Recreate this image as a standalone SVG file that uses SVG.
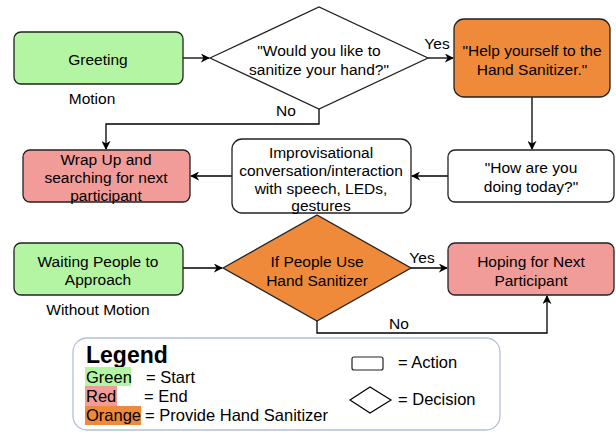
<svg xmlns="http://www.w3.org/2000/svg" width="616" height="434" viewBox="0 0 616 434">
<defs>
<style>
text{font-family:"Liberation Sans",Arial,sans-serif;font-size:15.5px;fill:#000;}
.c{text-anchor:middle;}
.lg{font-size:16.5px;}
.box{stroke:#222;stroke-width:1.3;}
.g{fill:#b3f5a3;}
.r{fill:#f19c99;}
.o{fill:#ef8a3a;}
.w{fill:#fff;}
.ln{fill:none;stroke:#000;stroke-width:1.3;}
</style>
<marker id="ah" viewBox="0 0 10 10" refX="9" refY="5" markerWidth="9" markerHeight="9" orient="auto" markerUnits="userSpaceOnUse">
<path d="M0,0 L10,5 L0,10 L3,5 Z" fill="#000"/>
</marker>
</defs>
<rect width="616" height="434" fill="#fff"/>

<g id="connectors">
<line class="ln" x1="183" y1="58" x2="209" y2="58" marker-end="url(#ah)"/>
<line class="ln" x1="428" y1="58" x2="453" y2="58" marker-end="url(#ah)"/>
<polyline class="ln" points="319,109 319,124 106,124 106,149" marker-end="url(#ah)"/>
<line class="ln" x1="532" y1="97" x2="532" y2="149" marker-end="url(#ah)"/>
<line class="ln" x1="448" y1="176" x2="412" y2="176" marker-end="url(#ah)"/>
<line class="ln" x1="232" y1="176" x2="191" y2="176" marker-end="url(#ah)"/>
<line class="ln" x1="183" y1="268" x2="222" y2="268" marker-end="url(#ah)"/>
<line class="ln" x1="411" y1="268" x2="447" y2="268" marker-end="url(#ah)"/>
<polyline class="ln" points="317,321 317,333 547,333 547,296" marker-end="url(#ah)"/>
<text x="437" y="49" class="c">Yes</text>
<text x="286" y="116" class="c">No</text>
<text x="422" y="263" class="c">Yes</text>
<text x="399" y="329" class="c">No</text>
</g>

<g id="greeting">
<rect class="box g" x="14" y="32" width="169" height="52" rx="7"/>
<text x="98" y="65" class="c">Greeting</text>
<text x="92" y="104" class="c">Motion</text>
</g>

<g id="decision1">
<polygon class="box w" points="210,58 319,7 428,58 319,109"/>
<text x="319" y="56" class="c">"Would you like to</text>
<text x="319" y="75" class="c">sanitize your hand?"</text>
</g>

<g id="help">
<rect class="box o" x="454" y="19" width="156" height="78" rx="10"/>
<text x="532" y="56" class="c">"Help yourself to the</text>
<text x="532" y="75" class="c">Hand Sanitizer."</text>
</g>

<g id="howareyou">
<rect class="box w" x="448" y="150" width="166" height="52" rx="7"/>
<text x="531" y="173" class="c">"How are you</text>
<text x="531" y="192" class="c">doing today?"</text>
</g>

<g id="improv">
<rect class="box w" x="232" y="139" width="179" height="74" rx="10"/>
<text x="321" y="158" class="c">Improvisational</text>
<text x="321" y="176" class="c">conversation/interaction</text>
<text x="321" y="194" class="c">with speech, LEDs,</text>
<text x="321" y="211" class="c">gestures</text>
</g>

<g id="wrapup">
<rect class="box r" x="23" y="150" width="167" height="52" rx="7"/>
<text x="106" y="165" class="c">Wrap Up and</text>
<text x="106" y="183" class="c">searching for next</text>
<text x="106" y="201" class="c">participant</text>
</g>

<g id="waiting">
<rect class="box g" x="14" y="243" width="169" height="52" rx="7"/>
<text x="98" y="267" class="c">Waiting People to</text>
<text x="98" y="285" class="c">Approach</text>
<text x="98" y="315" class="c">Without Motion</text>
</g>

<g id="decision2">
<polygon class="box o" points="223,268 317,215 411,268 317,321"/>
<text x="317" y="267" class="c">If People Use</text>
<text x="317" y="286" class="c">Hand Sanitizer</text>
</g>

<g id="hoping">
<rect class="box r" x="448" y="243" width="166" height="52" rx="7"/>
<text x="531" y="267" class="c">Hoping for Next</text>
<text x="531" y="286" class="c">Participant</text>
</g>

<g id="legend">
<rect x="73" y="338" width="427" height="92" rx="14" fill="#fff" stroke="#b4bfd9" stroke-width="1.3"/>
<text x="86" y="363" style="font-size:23px;font-weight:bold">Legend</text>
<rect x="85" y="367" width="46" height="19" fill="#b3f5a3"/>
<rect x="85" y="386" width="32" height="20" fill="#f19c99"/>
<rect x="85" y="406" width="56" height="19" fill="#ef8a3a"/>
<text x="86" y="383" class="lg">Green</text>
<text x="146" y="383" class="lg">= Start</text>
<text x="86" y="402" class="lg">Red</text>
<text x="144" y="402" class="lg">= End</text>
<text x="86" y="421" class="lg">Orange</text>
<text x="145" y="421" class="lg">= Provide Hand Sanitizer</text>
<rect x="352" y="357" width="31" height="13" rx="2" fill="#fff" stroke="#222" stroke-width="1.2"/>
<text x="398" y="368" class="lg">= Action</text>
<polygon points="350,400 370,387 391,400 370,413" fill="#fff" stroke="#000" stroke-width="1.2"/>
<text x="398" y="405" class="lg">= Decision</text>
</g>
</svg>
